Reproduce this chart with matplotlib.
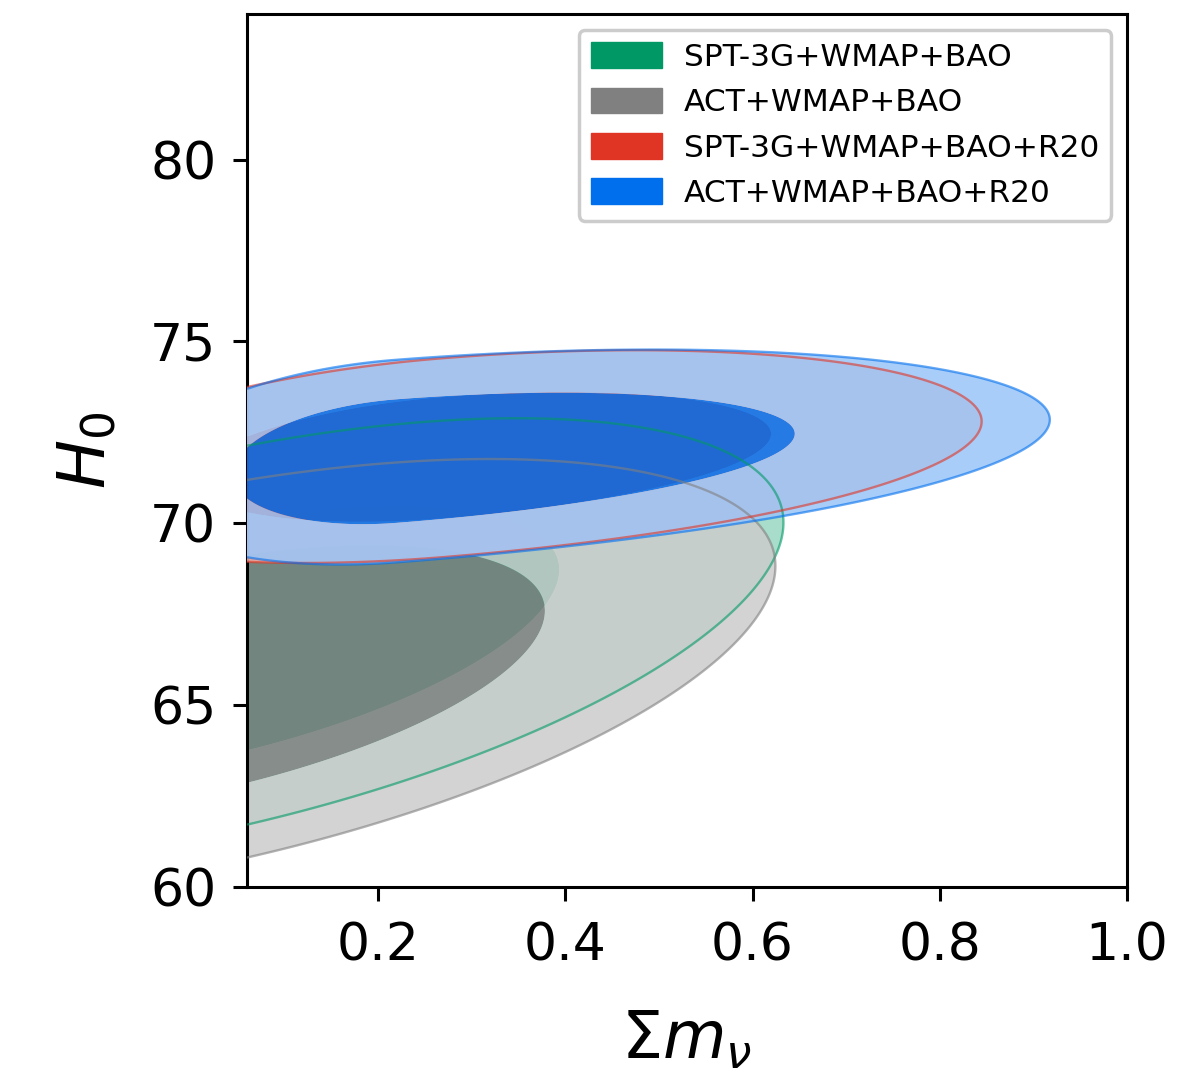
import numpy as np
import matplotlib
matplotlib.use("Agg")
import matplotlib.pyplot as plt
from matplotlib.patches import Patch

# getdist-like 2D posteriors (sum m_nu vs H0), each described by a
# split-gaussian in m_nu and a gaussian in H0 about a curved ridge line
labels = ["SPT-3G+WMAP+BAO", "ACT+WMAP+BAO", "SPT-3G+WMAP+BAO+R20", "ACT+WMAP+BAO+R20"]
colors = ["#009966", "gray", "#E03424", "#006FED"]

mnu_peak = [0.019, -0.007, 0.268, 0.219]
mnu_sig_lo = [0.247, 0.254, 0.175, 0.115]
mnu_sig_hi = [0.247, 0.254, 0.232, 0.281]
h0_at_zero = [66.6, 65.7, 71.2, 71.25]
h0_slope = [5.4, 5.0, 2.4, 2.2]
h0_curv = [0.0, 0.0, -0.6, -0.5]
h0_sig = [2.1, 2.1, 1.1, 1.12]

chi2_levels = [2.30, 6.18]  # 68% and 95% for 2 params

xlim = (0.06, 1.0)
ylim = (60, 84)
xticks = [0.2, 0.4, 0.6, 0.8, 1.0]
yticks = [60, 65, 70, 75, 80]

alpha_fill = 0.85
alpha_line = 0.6
pale = 0.6


def chi2_grid(i, M, H):
    d = M - mnu_peak[i]
    u = np.where(d < 0, d / mnu_sig_lo[i], d / mnu_sig_hi[i])
    ridge = h0_at_zero[i] + h0_slope[i] * M + h0_curv[i] * M ** 2
    v = (H - ridge) / h0_sig[i]
    return u ** 2 + v ** 2


m = np.linspace(xlim[0], xlim[1], 700)
h = np.linspace(ylim[0], ylim[1], 700)
M, H = np.meshgrid(m, h)

fig = plt.figure(figsize=(11.8, 10.79), dpi=100)
ax = fig.add_axes([247 / 1180, 1 - 887 / 1079, 880 / 1180, 873 / 1079])

grids = []
for i in range(len(labels)):
    c = np.array(matplotlib.colors.to_rgb(colors[i]))
    light = c * (1 - pale) + pale
    z = chi2_grid(i, M, H)
    grids.append(z)
    ax.contourf(M, H, z, levels=[0, chi2_levels[0], chi2_levels[1]],
                colors=[c, light], alpha=alpha_fill, zorder=1 + i, antialiased=True)

# outer contour lines go on top of all the fills
for i in range(len(labels)):
    ax.contour(M, H, grids[i], levels=[chi2_levels[1]], colors=[colors[i]],
               linewidths=1.7, alpha=alpha_line, zorder=10)

ax.set_xlim(*xlim)
ax.set_ylim(*ylim)
ax.set_xticks(xticks)
ax.set_yticks(yticks)
ax.set_xticklabels([f"{t:.1f}" for t in xticks])
ax.set_yticklabels([str(t) for t in yticks])
ax.tick_params(labelsize=37.5, length=10, width=2.2)
ax.tick_params(axis="x", pad=15)
ax.tick_params(axis="y", pad=12)
for s in ax.spines.values():
    s.set_linewidth(2.2)

ax.set_xlabel(r"$\Sigma m_\nu$", fontsize=47, labelpad=26)
ax.set_ylabel(r"$H_0$", fontsize=47, labelpad=22)

handles = [Patch(facecolor=colors[i], edgecolor=colors[i], alpha=1.0) for i in range(len(labels))]
leg = ax.legend(handles, labels, loc="upper right", fontsize=22.5,
                handlelength=2.25, handleheight=0.9, handletextpad=0.7,
                labelspacing=0.5, framealpha=1.0, edgecolor="#cccccc")
leg.get_frame().set_linewidth(2.5)
leg.set_zorder(20)

fig.savefig("out.png", dpi=100)
